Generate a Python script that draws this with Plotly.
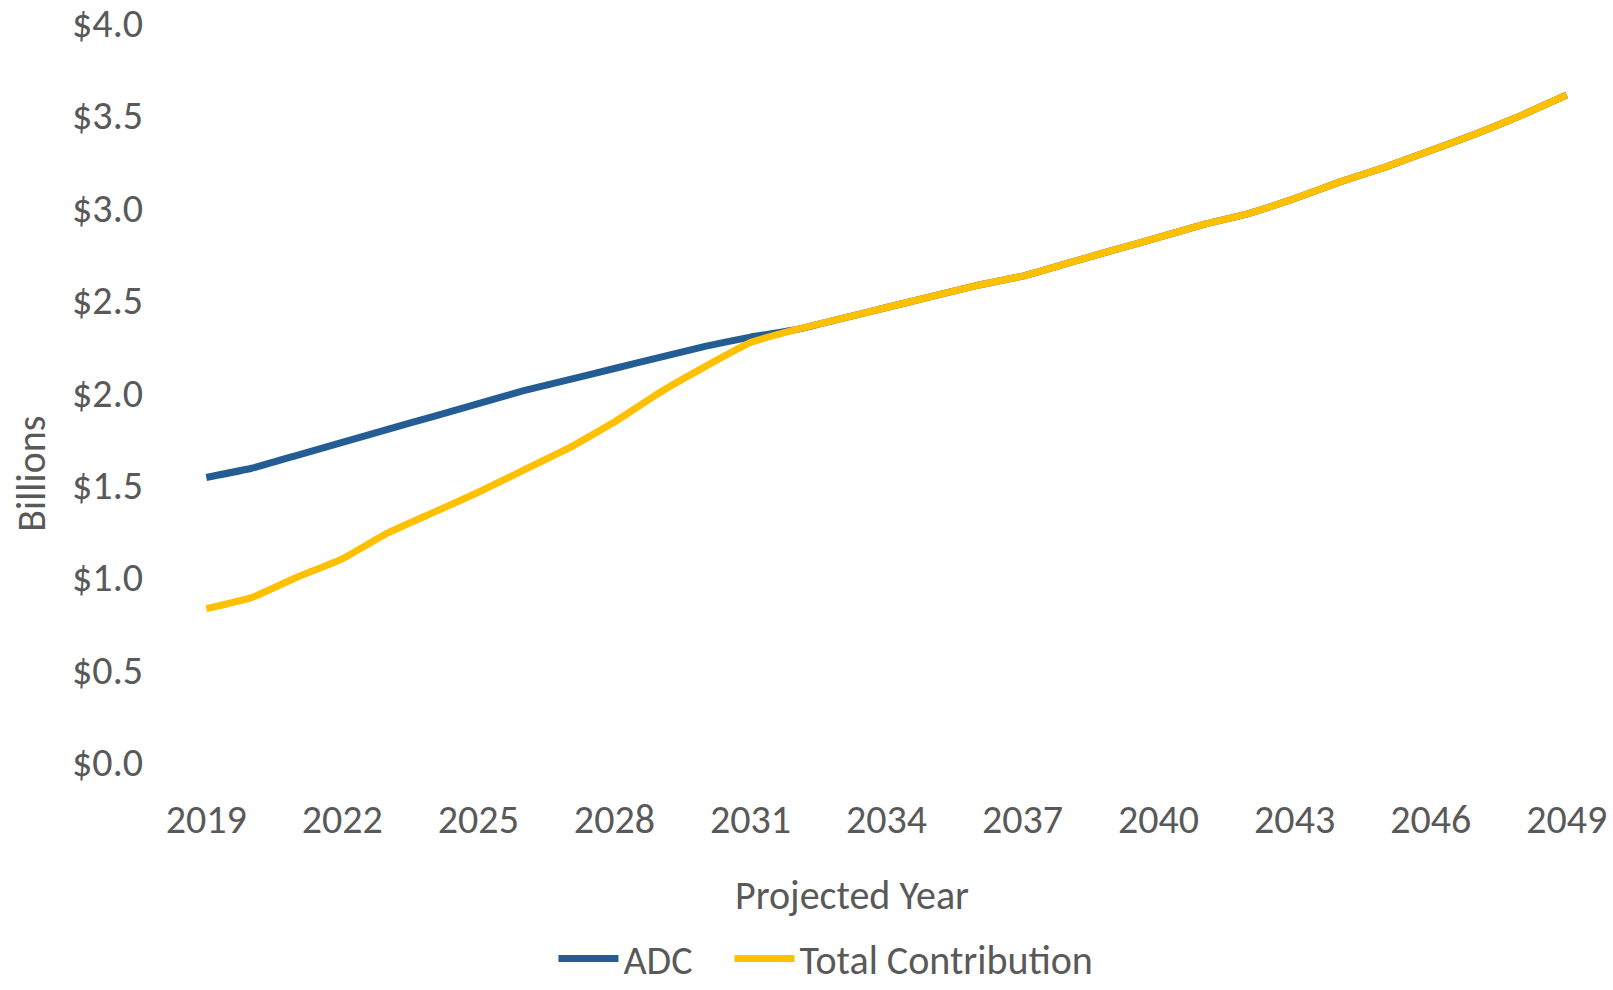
import plotly.graph_objects as go

# Projected contribution schedule, $ billions
years = list(range(2019, 2050))
adc = [1.54, 1.59, 1.66, 1.73, 1.80, 1.87, 1.94, 2.01, 2.07, 2.13,
       2.19, 2.25, 2.30, 2.34, 2.40, 2.46, 2.52, 2.58, 2.63, 2.70,
       2.77, 2.84, 2.91, 2.97, 3.05, 3.14, 3.22, 3.31, 3.40, 3.50, 3.61]
total_contribution = [0.83, 0.89, 1.00, 1.10, 1.24, 1.35, 1.46, 1.58, 1.70, 1.84,
                      2.00, 2.14, 2.27, 2.34, 2.40, 2.46, 2.52, 2.58, 2.63, 2.70,
                      2.77, 2.84, 2.91, 2.97, 3.05, 3.14, 3.22, 3.31, 3.40, 3.50, 3.61]

x_ticks = list(range(2019, 2050, 3))
y_ticks = [0, 0.5, 1.0, 1.5, 2.0, 2.5, 3.0, 3.5, 4.0]
y_tick_text = [f"${v:.1f}" for v in y_ticks]

FONT = "Carlito, Lato, sans-serif"
GREY = "#595959"
BLUE = "#245D93"
GOLD = "#FFC000"
SIZE = 40

fig = go.Figure()
fig.add_trace(go.Scatter(x=years, y=adc, name="ADC", mode="lines", legend="legend",
                         line=dict(color=BLUE, width=7, shape="spline", smoothing=0.3)))
fig.add_trace(go.Scatter(x=years, y=total_contribution, name="Total Contribution", mode="lines",
                         legend="legend2",
                         line=dict(color=GOLD, width=7, shape="spline", smoothing=0.3)))

legend_style = dict(orientation="h", xanchor="left", y=-0.266, yanchor="middle",
                    font=dict(family=FONT, size=SIZE, color=GREY),
                    bgcolor="rgba(0,0,0,0)", itemwidth=60)

fig.update_layout(
    width=1613, height=990,
    margin=dict(l=204, r=44, t=23, b=228, autoexpand=False),
    paper_bgcolor="white", plot_bgcolor="white",
    font=dict(family=FONT, size=SIZE, color=GREY),
    showlegend=True,
    legend=dict(x=0.256, **legend_style),
    legend2=dict(x=0.385, **legend_style),
    xaxis=dict(range=[2018.95, 2049.05], tickmode="array", tickvals=x_ticks,
               ticktext=[str(v) for v in x_ticks], showgrid=False, zeroline=False,
               showline=False, ticks="outside", ticklen=22, tickcolor="white",
               automargin=False, ticklabeloverflow="allow"),
    yaxis=dict(range=[0, 4], tickmode="array", tickvals=y_ticks, ticktext=y_tick_text,
               showgrid=False, zeroline=False, showline=False,
               ticks="outside", ticklen=52, tickcolor="white", automargin=False,
               ticklabeloverflow="allow"),
    annotations=[
        dict(text="Billions", xref="paper", yref="paper", x=-0.126, y=0.39,
             textangle=-90, showarrow=False, xanchor="center", yanchor="middle",
             font=dict(family=FONT, size=SIZE, color=GREY)),
        dict(text="Projected Year", xref="paper", yref="paper", x=0.475, y=-0.18,
             showarrow=False, xanchor="center", yanchor="middle",
             font=dict(family=FONT, size=SIZE, color=GREY)),
    ],
)

fig.write_html("out.html")
